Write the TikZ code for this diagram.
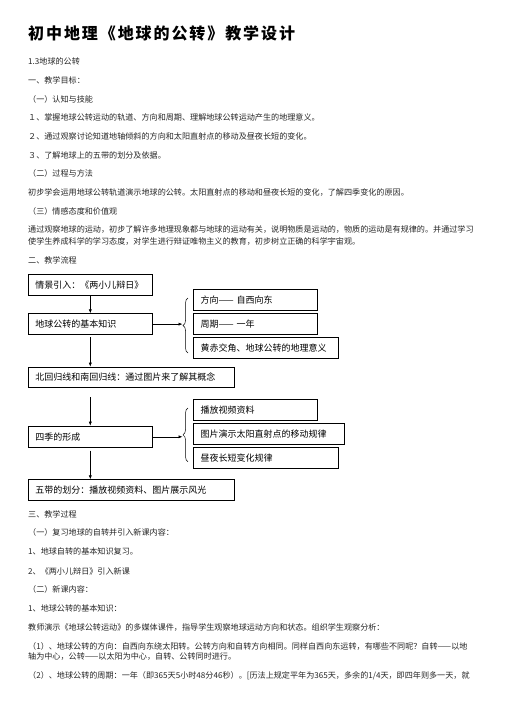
\documentclass[tikz,border=0pt]{standalone}
\usepackage{fontspec}
\setmainfont{Noto Sans CJK SC}
\newfontfamily\titlefam[LetterSpace=12]{Noto Sans CJK SC}
\usetikzlibrary{arrows.meta,decorations.pathreplacing}
\newcommand\bodyfont{\fontsize{8.1}{10}\selectfont}
\newcommand\boxfont{\fontsize{9}{11}\selectfont}
\begin{document}
\begin{tikzpicture}[x=1pt,y=-1pt,
  body/.style={anchor=west, inner sep=0pt, font=\bodyfont, text=black!85},
  box/.style={draw, line width=0.6pt, anchor=north west, inner xsep=7pt, inner ysep=0pt, align=left, font=\boxfont, minimum height=20.7pt},
  arr/.style={-{Latex[length=4pt,width=3.2pt]}, line width=0.6pt},
  brc/.style={decorate, decoration={brace, amplitude=5pt}, line width=0.5pt}]
\fill[white] (0,0) rectangle (504,713);
\useasboundingbox (0,0) rectangle (504,713);

\node[anchor=west, inner sep=0pt, font=\titlefam\bfseries\fontsize{16}{18}\selectfont] (title) at (28,33) {初中地理《地球的公转》教学设计};

\node[body] (t1) at (28,61.7) {1.3地球的公转};
\node[body] (t2) at (28,80.7) {一、教学目标：};
\node[body] (t3) at (28,99) {（一）认知与技能};
\node[body] (t4) at (28,117.3) {１、掌握地球公转运动的轨道、方向和周期、理解地球公转运动产生的地理意义。};
\node[body] (t5) at (28,136) {２、通过观察讨论知道地轴倾斜的方向和太阳直射点的移动及昼夜长短的变化。};
\node[body] (t6) at (28,155) {３、了解地球上的五带的划分及依据。};
\node[body] (t7) at (28,173.3) {（二）过程与方法};
\node[body] (t8) at (28,192.7) {初步学会运用地球公转轨道演示地球的公转。太阳直射点的移动和昼夜长短的变化，了解四季变化的原因。};
\node[body] (t9) at (28,211) {（三）情感态度和价值观};
\node[body] (t10) at (28,229.3) {通过观察地球的运动，初步了解许多地理现象都与地球的运动有关，说明物质是运动的，物质的运动是有规律的。并通过学习};
\node[body] (t11) at (28,241.5) {使学生养成科学的学习态度，对学生进行辩证唯物主义的教育，初步树立正确的科学宇宙观。};
\node[body] (t12) at (28,260.7) {二、教学流程};

% flow chart
\node[box, text width=110pt, minimum height=20.7pt] (b1) at (28,274.3) {情景引入：《两小儿辩日》};
\node[box, text width=110pt, minimum height=21pt] (b2) at (28,313.3) {地球公转的基本知识};
\node[box, text width=192.3pt, minimum height=20pt] (b3) at (28,366.7) {北回归线和南回归线：通过图片来了解其概念};
\node[box, text width=110pt, minimum height=21.6pt] (b4) at (28,425.7) {四季的形成};
\node[box, text width=192.3pt, minimum height=20.7pt] (b5) at (28,479.3) {五带的划分：播放视频资料、图片展示风光};

\node[box, text width=110pt, minimum height=21pt] (r1) at (193.3,289.3) {方向—— 自西向东};
\node[box, text width=110pt, minimum height=21pt] (r2) at (193.3,313.3) {周期—— 一年};
\node[box, text width=130.4pt, minimum height=20.4pt] (r3) at (193.3,337.3) {黄赤交角、地球公转的地理意义};

\node[box, text width=110pt, minimum height=21pt] (s1) at (193.3,399.3) {播放视频资料};
\node[box, text width=137pt, minimum height=20.7pt] (s2) at (193.3,423.3) {图片演示太阳直射点的移动规律};
\node[box, text width=130.4pt, minimum height=20.4pt] (s3) at (193.3,447.3) {昼夜长短变化规律};

\coordinate (brA1) at (188,353);
\coordinate (brA2) at (188,298);
\coordinate (tipA) at (182.5,324);
\draw[brc] (brA1) -- (brA2);
\coordinate (brB1) at (188,461.7);
\coordinate (brB2) at (188,408);
\coordinate (tipB) at (182.5,435);
\draw[brc] (brB1) -- (brB2);

\draw[arr] (b1.south) -- (b2.north);
\draw[arr, shorten <=2.4pt] (b2.south) -- (b2.south |- b3.north);
\draw[arr, shorten <=10pt] (b3.south -| b2.south) -- (b4.north);
\draw[arr, shorten <=2.7pt] (b4.south) -- (b4.south |- b5.north);
\draw[arr] (b2.east) -- (b2.east -| tipA);
\draw[arr] (b4.east) -- (b4.east -| tipB);

\node[body] (t13) at (28,514.3) {三、教学过程};
\node[body] (t14) at (28,532.7) {（一）复习地球的自转并引入新课内容：};
\node[body] (t15) at (28,551.7) {1、地球自转的基本知识复习。};
\node[body] (t16) at (28,571) {2、《两小儿辩日》引入新课};
\node[body] (t17) at (28,589.3) {（二）新课内容：};
\node[body] (t18) at (28,608) {1、地球公转的基本知识：};
\node[body] (t19) at (28,627.7) {教师演示《地球公转运动》的多媒体课件，指导学生观察地球运动方向和状态。组织学生观察分析：};
\node[body] (t20) at (28,646) {（1）、地球公转的方向：自西向东绕太阳转。公转方向和自转方向相同。同样自西向东运转，有哪些不同呢？自转——以地};
\node[body] (t21) at (28,656.5) {轴为中心，公转——以太阳为中心，自转、公转同时进行。};
\node[body] (t22) at (28,676) {（2）、地球公转的周期：一年（即365天5小时48分46秒）。[历法上规定平年为365天，多余的1/4天，即四年则多一天，就};
\end{tikzpicture}
\end{document}
